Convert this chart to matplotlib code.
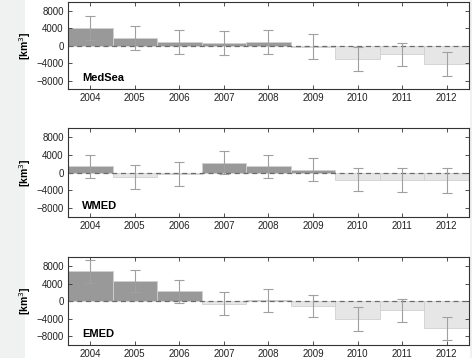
import matplotlib
matplotlib.use("Agg")
import matplotlib.pyplot as plt
import numpy as np

plt.rcParams['font.family'] = ['Liberation Sans', 'DejaVu Sans']

years = [2004, 2005, 2006, 2007, 2008, 2009, 2010, 2011, 2012]
regions = ["MedSea", "WMED", "EMED"]
values = {
    "MedSea": [4100, 1750, 750, 600, 800, -200, -3100, -2000, -4200],
    "WMED":   [1450, -950, -300, 2250, 1450, 700, -1600, -1600, -1750],
    "EMED":   [6800, 4600, 2250, -550, 200, -1100, -4100, -2100, -6150],
}
errors = {
    "MedSea": [2800, 2750, 2750, 2750, 2700, 2780, 2700, 2700, 2750],
    "WMED":   [2550, 2670, 2700, 2630, 2590, 2660, 2630, 2700, 2750],
    "EMED":   [2670, 2590, 2670, 2600, 2600, 2550, 2700, 2600, 2600],
}
yticks = [-8000, -4000, 0, 4000, 8000]

fig = plt.figure(figsize=(4.72, 3.58), dpi=100)
fig.patch.set_facecolor('white')
r1 = plt.Rectangle((0, 0), 25 / 472, 1, transform=fig.transFigure,
                   facecolor='#f0f2f1', edgecolor='none', zorder=-5)
r2 = plt.Rectangle((470 / 472, 0), 2 / 472, 1, transform=fig.transFigure,
                   facecolor='#f0f2f1', edgecolor='none', zorder=-5)
fig.add_artist(r1)
fig.add_artist(r2)

positions = [
    [0.144, 0.7506, 0.8496, 0.2439],
    [0.144, 0.3939, 0.8496, 0.2478],
    [0.144, 0.0363, 0.8496, 0.2450],
]

for reg, pos in zip(regions, positions):
    ax = fig.add_axes(pos)
    ax.set_facecolor('white')
    v = np.array(values[reg])
    e = np.array(errors[reg])
    colors = ['#999999' if x > 0 else '#e6e6e6' for x in v]
    ax.bar(years, v, width=1.0, color=colors, edgecolor='#d0d0d0', linewidth=0.6, zorder=1)
    ax.axhline(0, color='#6a6a6a', linestyle=(0, (4, 3)), linewidth=0.9, zorder=2)
    ax.errorbar(years, v, yerr=e, fmt='none', ecolor='#a0a0a0', elinewidth=0.8,
                capsize=3.3, capthick=0.8, zorder=3)
    ax.set_xlim(2003.5, 2012.5)
    ax.set_ylim(-10000, 10000)
    ax.set_xticks(years)
    ax.set_yticks(yticks)
    ax.tick_params(direction='in', top=True, right=True, labelsize=7,
                   length=3, width=0.6, colors='#333333', labelcolor='#222222')
    ax.tick_params(axis='x', pad=3)
    ax.tick_params(axis='y', pad=3)
    for s in ax.spines.values():
        s.set_linewidth(0.8)
        s.set_color('#333333')
    ax.set_ylabel('[km$^3$]', fontsize=7.5, fontweight='bold')
    ax.yaxis.set_label_coords((33 - 68) / 401, 0.5)
    ax.text(2003.81, -7500, reg, fontsize=8, fontweight='bold', va='center', ha='left')

fig.savefig('out.png', dpi=100)
